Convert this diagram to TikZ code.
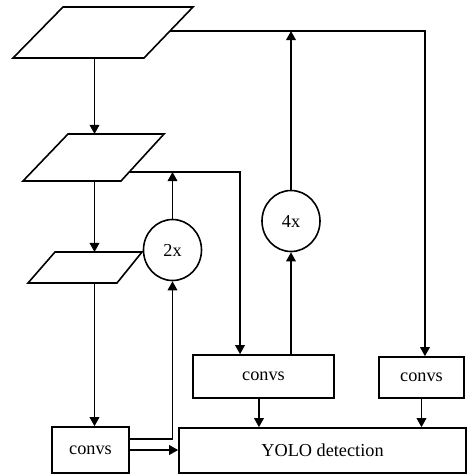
\documentclass[tikz,border=0pt]{standalone}
\usepackage{fontspec}
\setmainfont{Liberation Serif}
\usetikzlibrary{positioning, arrows.meta, shapes.geometric, calc}

\begin{document}
\begin{tikzpicture}[x=0.75pt, y=-0.75pt, line width=1.2pt,
    every node/.style={font=\fontsize{13.7}{16}\selectfont},
    convbox/.style={draw, rectangle, inner sep=0pt},
    upsample/.style={draw, ellipse, inner sep=0pt, minimum width=43.5pt, minimum height=45.75pt},
    arr/.style={-{Triangle[length=6.8pt, width=7.2pt]}}]
  \path[use as bounding box] (0,0) rectangle (473,476);
  % Feature maps (parallelograms, shrinking downwards)
  \draw (63,7) coordinate (map1-tl) -- (193,7) -- (144,58) coordinate (map1-br)
    -- (13,58) -- cycle;
  \draw (68,134) coordinate (map2-tl) -- (164,134) -- (121,181) coordinate (map2-br)
    -- (23,181) -- cycle;
  \draw (55,252) coordinate (map3-tl) -- (142,252) -- (117,283) coordinate (map3-br)
    -- (28,283) -- cycle;
  % Taps on the right edges of the two upper maps
  \coordinate (tap1) at (170,31);
  \coordinate (tap2) at (129.5,172);
  % Upsampling circles
  \node[upsample] (up2) at (172.5,250) {2x};
  \node[upsample] (up4) at (291,221) {4x};
  % Conv blocks and the detection head
  \node[convbox, minimum width=57.75pt, minimum height=34.5pt] (conv1) at (90.5,450) {convs};
  \node[convbox, minimum width=105.75pt, minimum height=32.25pt] (conv2) at (263.5,376.5) {convs};
  \node[convbox, minimum width=63.75pt, minimum height=30.75pt] (conv3) at (421.5,377.5) {convs};
  \node[convbox, minimum width=215.25pt, minimum height=33.75pt] (yolo) at (322.5,450.5) {YOLO detection};
  % Backbone trunk
  \coordinate (trunk) at (94.5,0);
  \draw[arr] (map1-br -| trunk) -- (map2-tl -| trunk);
  \draw[arr] (map2-br -| trunk) -- (map3-tl -| trunk);
  \draw[arr] (map3-br -| trunk) -- (conv1.north -| trunk);
  % Small scale: into the 2x branch and the detection head
  \draw[arr] ([yshift=8.25pt]conv1.east) -| (up2.south);
  \draw[arr] (conv1.east) -- (conv1.east -| yolo.west);
  % Middle scale
  \draw[arr] (up2.north) -- (up2.north |- tap2);
  \draw[arr] (tap2) -| ([xshift=-17.6pt]conv2.north);
  \draw[arr] (up4.south |- conv2.north) -- (up4.south);
  % Large scale
  \draw[arr] (up4.north) -- (up4.north |- tap1);
  \draw[arr] (tap1) -| ([xshift=2.6pt]conv3.north);
  % Into the detection head
  \draw[arr] ([xshift=-3.4pt]conv2.south) -- ([xshift=-3.4pt]conv2.south |- yolo.north);
  \draw[arr] (conv3.south) -- (conv3.south |- yolo.north);
\end{tikzpicture}
\end{document}
